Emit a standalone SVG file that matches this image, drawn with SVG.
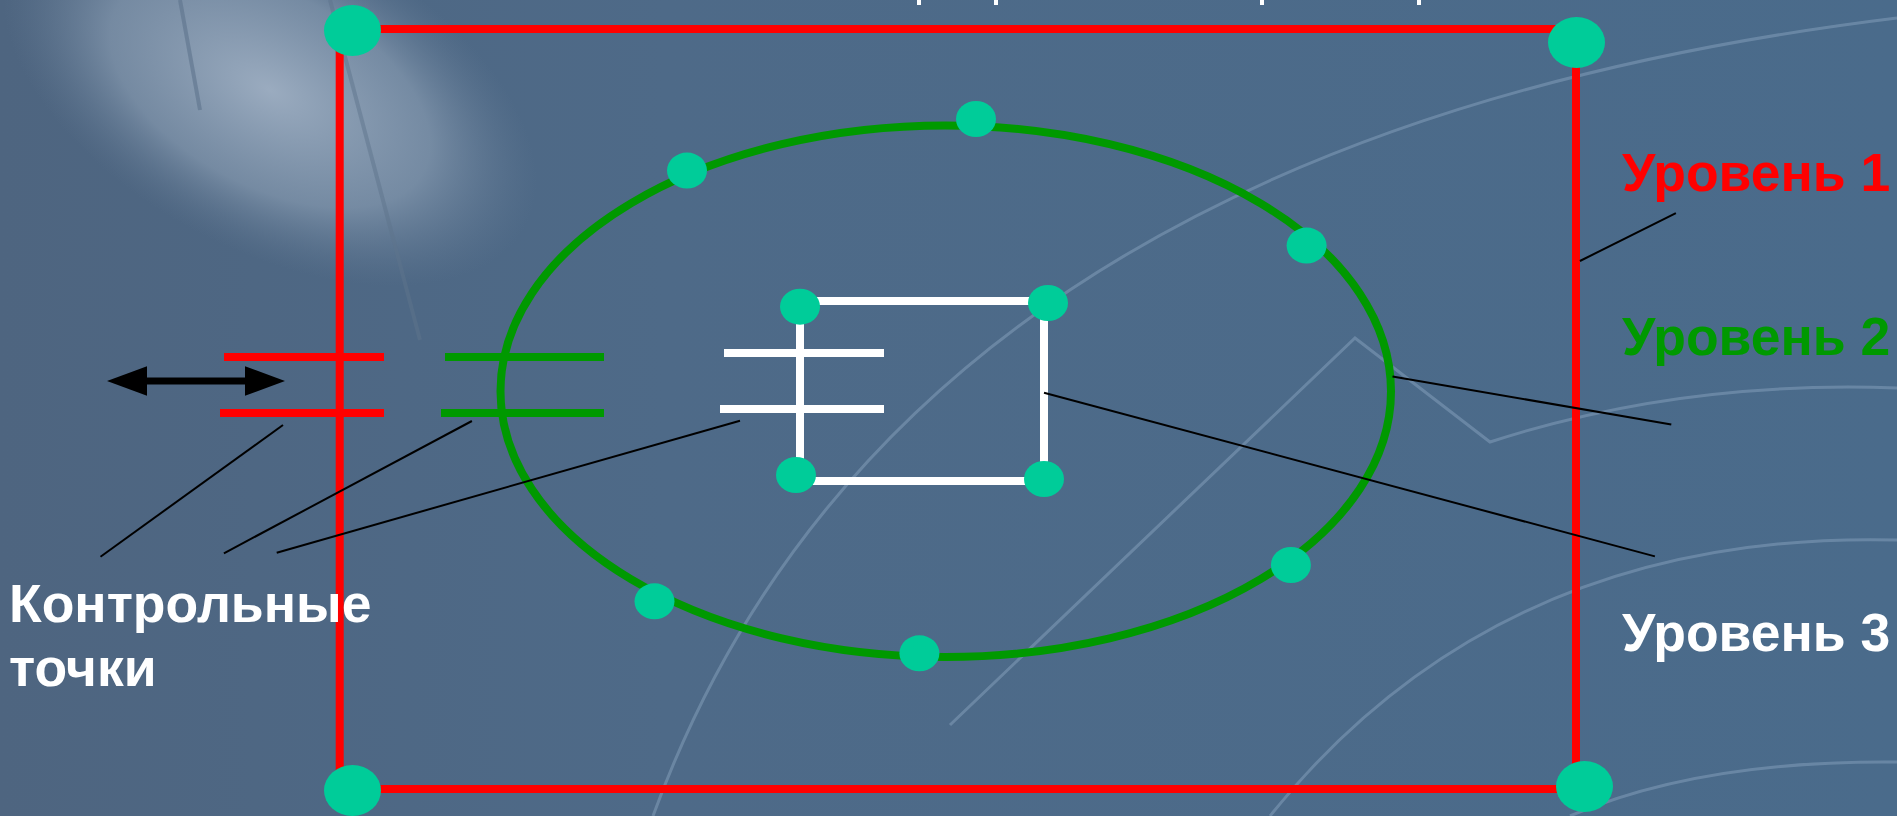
<svg xmlns="http://www.w3.org/2000/svg" width="1897" height="816" viewBox="0 0 1897 816">
<defs>
<linearGradient id="bg" x1="0" y1="0" x2="1" y2="0">
<stop offset="0" stop-color="#4E6580"/>
<stop offset="0.35" stop-color="#4E6A88"/>
<stop offset="1" stop-color="#4A6B8B"/>
</linearGradient>
<radialGradient id="glow" cx="0.5" cy="0.5" r="0.5">
<stop offset="0" stop-color="#A3B3C6" stop-opacity="0.9"/>
<stop offset="0.6" stop-color="#8FA2B7" stop-opacity="0.6"/>
<stop offset="1" stop-color="#6A8099" stop-opacity="0"/>
</radialGradient>
<marker id="ah" markerUnits="userSpaceOnUse" markerWidth="40" markerHeight="30" viewBox="0 0 38 28" refX="0" refY="14" orient="auto-start-reverse">
<path d="M0,0 L38,14 L0,28 Z" fill="#000"/>
</marker>
<style>
.red{fill:none;stroke:#FF0000;stroke-width:8}
.grn{fill:none;stroke:#009900;stroke-width:8}
.wht{fill:none;stroke:#FFFFFF;stroke-width:8}
.dot{fill:#00CC99}
.lead{stroke:#000;stroke-width:2;fill:none}
.deco{fill:none;stroke:#8FA8C4;stroke-opacity:0.45;stroke-width:3}
.lbl{font-family:"Liberation Sans",Arial,sans-serif;font-weight:bold;font-size:53.5px}
</style>
</defs>
<g id="background">
<rect width="1897" height="816" fill="url(#bg)"/>
<ellipse cx="270" cy="90" rx="290" ry="160" transform="rotate(28 270 90)" fill="url(#glow)"/>
<path d="M180,0 L200,110" stroke="#5E738C" stroke-width="4" opacity="0.6" fill="none"/>
<path d="M330,0 L420,340" stroke="#5E738C" stroke-width="4" opacity="0.5" fill="none"/>
<path class="deco" d="M653,816 Q900,140 1897,18"/>
<path class="deco" d="M950,725 L1355,338 L1490,442 Q1680,380 1897,388"/>
<path class="deco" d="M1270,816 Q1500,530 1897,540"/>
<path class="deco" d="M1570,816 Q1700,760 1897,762"/>
<rect x="917" y="0" width="4" height="5" fill="#fff"/>
<rect x="994" y="0" width="4" height="5" fill="#fff"/>
<rect x="1260" y="0" width="4" height="5" fill="#fff"/>
<rect x="1417" y="0" width="4" height="5" fill="#fff"/>
</g>
<g id="level1">
<rect class="red" x="339.7" y="29" width="1236.3" height="760"/>
<line class="red" x1="224" y1="357" x2="384" y2="357"/>
<line class="red" x1="220" y1="413" x2="384" y2="413"/>
<ellipse class="dot" cx="352.5" cy="30.5" rx="28.5" ry="25.5"/>
<ellipse class="dot" cx="1576.5" cy="42.5" rx="28.5" ry="25.5"/>
<ellipse class="dot" cx="352.5" cy="790.5" rx="28.5" ry="25.5"/>
<ellipse class="dot" cx="1584.5" cy="786.5" rx="28.5" ry="25.5"/>
</g>
<g id="level2">
<ellipse class="grn" cx="945.75" cy="391.25" rx="445.25" ry="265.75"/>
<line class="grn" x1="445" y1="357" x2="604" y2="357"/>
<line class="grn" x1="441" y1="413" x2="604" y2="413"/>
<ellipse class="dot" cx="976" cy="119" rx="20" ry="18"/>
<ellipse class="dot" cx="687" cy="170.6" rx="20" ry="18"/>
<ellipse class="dot" cx="1306.6" cy="245.6" rx="20" ry="18"/>
<ellipse class="dot" cx="1290.9" cy="565" rx="20" ry="18"/>
<ellipse class="dot" cx="919.4" cy="653.3" rx="20" ry="18"/>
<ellipse class="dot" cx="654.5" cy="601.3" rx="20" ry="18"/>
</g>
<g id="level3">
<path class="wht" d="M800,301 L1044,301 L1044,481 L796,481 M800,301 L800,481"/>
<line class="wht" x1="724" y1="353" x2="884" y2="353"/>
<line class="wht" x1="720" y1="409" x2="884" y2="409"/>
<ellipse class="dot" cx="800" cy="306.7" rx="20" ry="18"/>
<ellipse class="dot" cx="1048" cy="303" rx="20" ry="18"/>
<ellipse class="dot" cx="796" cy="475" rx="20" ry="18"/>
<ellipse class="dot" cx="1044" cy="479" rx="20" ry="18"/>
</g>
<g id="connectors">
<line x1="147" y1="381" x2="245" y2="381" stroke="#000" stroke-width="7" marker-start="url(#ah)" marker-end="url(#ah)"/>
<line class="lead" x1="283" y1="425" x2="100.5" y2="556.7"/>
<line class="lead" x1="471.9" y1="421" x2="223.9" y2="553.3"/>
<line class="lead" x1="740" y1="420.7" x2="276.7" y2="552.7"/>
<line class="lead" x1="1675.9" y1="213.2" x2="1579.9" y2="261"/>
<line class="lead" x1="1392.5" y1="376.4" x2="1671.3" y2="424.6"/>
<line class="lead" x1="1044" y1="392.7" x2="1654.9" y2="556.4"/>
</g>
<g id="labels">
<text class="lbl" x="1622" y="190.5" fill="#FF0000">Уровень 1</text>
<text class="lbl" x="1622" y="354.5" fill="#009900">Уровень 2</text>
<text class="lbl" x="1622" y="650.5" fill="#FFFFFF">Уровень 3</text>
<text class="lbl" x="9" y="621.5" fill="#FFFFFF">Контрольные</text>
<text class="lbl" x="9" y="686" fill="#FFFFFF">точки</text>
</g>
</svg>
